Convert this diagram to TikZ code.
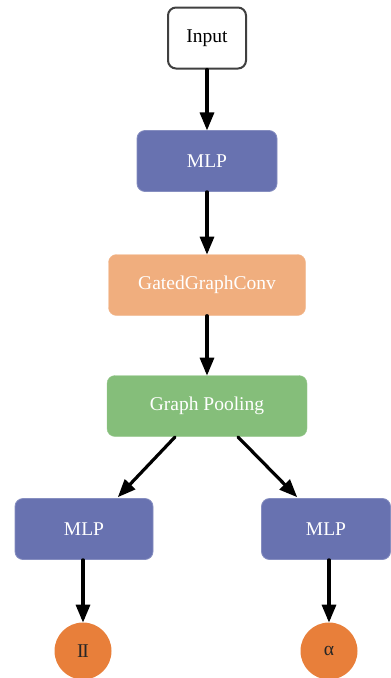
\documentclass[tikz,border=0pt]{standalone}
\usepackage{fontspec}
\setmainfont{Liberation Serif}
\usepackage{tikz}
\usetikzlibrary{arrows}

\definecolor{mlpblue}{RGB}{104,114,176}
\definecolor{convorange}{RGB}{240,174,126}
\definecolor{poolgreen}{RGB}{133,190,122}
\definecolor{outorange}{RGB}{232,127,58}

\tikzset{
  box/.style={rectangle,rounded corners=8pt,minimum height=61pt,inner sep=0pt,
    font=\fontsize{19.5}{22}\selectfont,text=white},
  mlpbox/.style={box,fill=mlpblue,draw=mlpblue!80!white,line width=0.8pt},
  outcirc/.style={circle,fill=outorange,minimum size=57pt,inner sep=0pt,
    font=\fontsize{19.5}{22}\selectfont,text=black!85}
}

\begin{document}
\begin{tikzpicture}[line cap=round,line join=round,>=triangle 45,x=1pt,y=-1pt]
\useasboundingbox (0,0) rectangle (391,678);
\node[box,text=black,draw=black!75,line width=2pt,fill=white,minimum width=78pt] (input) at (207,38) {Input};
\node[mlpbox,minimum width=140pt] (mlp) at (207,161) {MLP};
\node[box,fill=convorange,draw=convorange!85!white,minimum width=197pt] (conv) at (207,285) {GatedGraphConv};
\node[box,fill=poolgreen,draw=poolgreen!85!white,minimum width=200pt] (pool) at (207,406) {Graph Pooling};
\node[mlpbox,minimum width=138pt] (mlpl) at (84,529) {MLP};
\node[mlpbox,minimum width=129pt] (mlpr) at (326,529) {MLP};
\node[outcirc] (pi) at (83,651) {I\kern-1.4pt I};
\node[outcirc] (alpha) at (329,651) {α};
% split points under the pooling box
\coordinate (splitl) at (175,437);
\coordinate (splitr) at (238,437);
\coordinate (inl) at (118,497);
\coordinate (inr) at (297,497);

\draw[->,line width=3.2pt] (input) -- (mlp);
\draw[->,line width=3.2pt] (mlp) -- (conv);
\draw[->,line width=3.2pt] (conv) -- (pool);
\draw[->,line width=3.2pt] (splitl) -- (inl);
\draw[->,line width=3.2pt] (splitr) -- (inr);
\draw[->,line width=3.2pt] (mlpl.south-|pi) -- (pi);
\draw[->,line width=3.2pt] (mlpr.south-|alpha) -- (alpha);

\end{tikzpicture}
\end{document}
